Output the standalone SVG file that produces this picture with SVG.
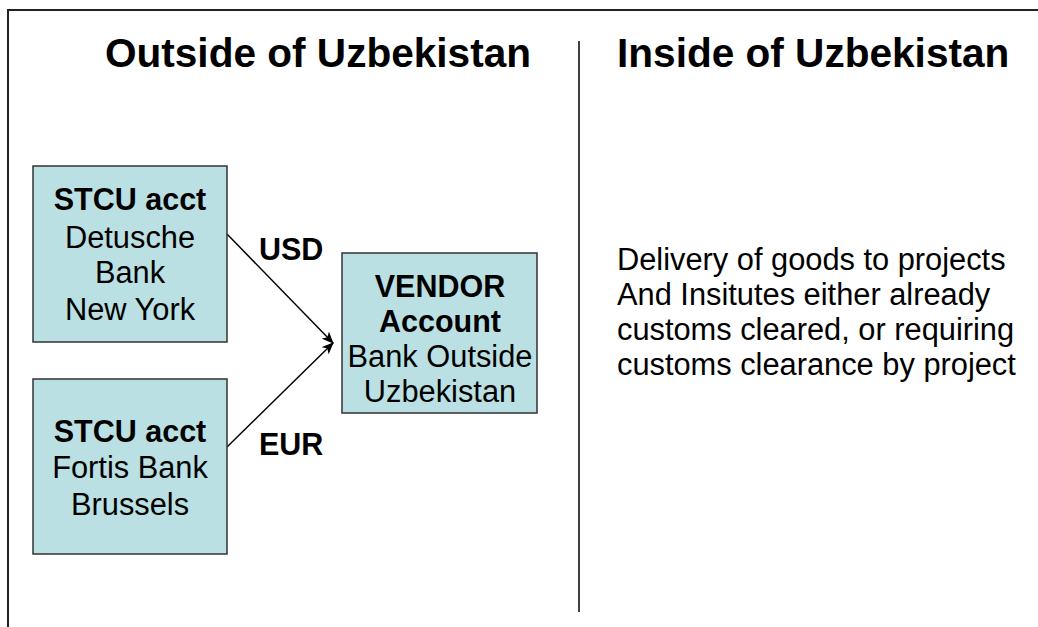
<svg xmlns="http://www.w3.org/2000/svg" width="1038" height="627" viewBox="0 0 1038 627">
<style>
.box{fill:#BBE0E3;stroke:#333;stroke-width:1.5}
text{font-family:"Liberation Sans",Arial,sans-serif;fill:#000}
.t{font-size:40.6px;font-weight:bold}
.b{font-size:30.5px;font-weight:bold}
.n{font-size:30.8px}
.c{text-anchor:middle}
.conn{stroke:#000;stroke-width:1.5;fill:none;marker-end:url(#ah)}
</style>
<defs>
<marker id="ah" viewBox="0 0 12 10" refX="11" refY="5" markerWidth="12" markerHeight="10" markerUnits="userSpaceOnUse" orient="auto">
<path d="M0,0 L12,5 L0,10 L3,5 Z" fill="#000"/>
</marker>
</defs>
<rect width="1038" height="627" fill="#fff"/>
<path d="M8,627 V10 H1038" fill="none" stroke="#222" stroke-width="2"/>
<line x1="579" y1="41" x2="579" y2="612" stroke="#000" stroke-width="1.5"/>
<text class="t c" x="318" y="67">Outside of Uzbekistan</text>
<text class="t" x="617" y="67">Inside of Uzbekistan</text>
<g id="connectors">
<line class="conn" x1="227" y1="234" x2="333" y2="343"/>
<line class="conn" x1="227" y1="447" x2="333" y2="343"/>
<text class="b" x="259" y="260">USD</text>
<text class="b" x="259" y="455">EUR</text>
</g>
<g id="stcu-db">
<rect class="box" x="33" y="166" width="194" height="176"/>
<text class="b c" x="130" y="210">STCU acct</text>
<text class="n c" x="130" y="248">Detusche</text>
<text class="n c" x="130" y="283">Bank</text>
<text class="n c" x="130" y="320">New York</text>
</g>
<g id="stcu-fortis">
<rect class="box" x="33" y="379" width="194" height="175"/>
<text class="b c" x="130" y="442">STCU acct</text>
<text class="n c" x="130" y="478">Fortis Bank</text>
<text class="n c" x="130" y="515">Brussels</text>
</g>
<g id="vendor">
<rect class="box" x="342" y="253" width="195" height="160"/>
<text class="b c" x="440" y="297">VENDOR</text>
<text class="b c" x="440" y="332">Account</text>
<text class="n c" x="440" y="367">Bank Outside</text>
<text class="n c" x="440" y="402">Uzbekistan</text>
</g>
<g id="inside-text">
<text class="n" x="617" y="270">Delivery of goods to projects</text>
<text class="n" x="617" y="305">And Insitutes either already</text>
<text class="n" x="617" y="340">customs cleared, or requiring</text>
<text class="n" x="617" y="375">customs clearance by project</text>
</g>
</svg>
